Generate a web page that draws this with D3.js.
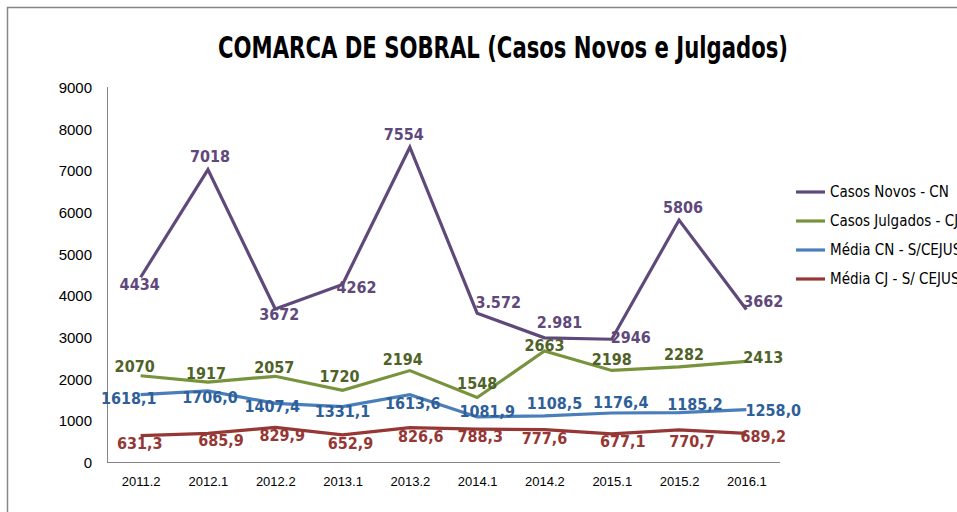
<!DOCTYPE html>
<html>
<head>
<meta charset="utf-8">
<script src="https://cdn.jsdelivr.net/npm/d3@7"></script>
<style>
  body { margin: 0; background: #fff; }
  svg { display: block; font-family: "Liberation Sans Narrow", "DejaVu Sans Condensed", sans-serif; }
  .axis path { stroke: #868686; }
  .axis line { display: none; }
  .axis text { fill: #000; }
</style>
</head>
<body>
<svg class="chart" width="957" height="512"></svg>
<script>
const periods = ["2011.2", "2012.1", "2012.2", "2013.1", "2013.2", "2014.1", "2014.2", "2015.1", "2015.2", "2016.1"];
const casosNovos = [4434, 7018, 3672, 4262, 7554, 3572, 2981, 2946, 5806, 3662];
const casosNovosText = ["4434", "7018", "3672", "4262", "7554", "3.572", "2.981", "2946", "5806", "3662"];
const casosJulgados = [2070, 1917, 2057, 1720, 2194, 1548, 2663, 2198, 2282, 2413];
const mediaCN = [1618.1, 1706.0, 1407.4, 1331.1, 1613.6, 1081.9, 1108.5, 1176.4, 1185.2, 1258.0];
const mediaCJ = [631.3, 685.9, 829.9, 652.9, 826.6, 788.3, 777.6, 677.1, 770.7, 689.2];
const seriesNames = ["Casos Novos - CN", "Casos Julgados - CJ", "Média CN - S/CEJUS", "Média CJ - S/ CEJUS"];
const yTicks = [0, 1000, 2000, 3000, 4000, 5000, 6000, 7000, 8000, 9000];

// label placement, copied by hand from the original chart
const labelShift = [
  [[-1, 13], [2, -8], [4, 11], [14, 9], [-6, -7], [21, -5], [15, -10], [19, 4], [4, -7], [17, -2]],
  [[-6, -4], [-2, -3], [-1, -3], [-3, -8], [-7, -6], [0, -9], [0, 0], [0, -5], [5, -7], [17, 2]],
  [[-12, 9], [2, 12], [-3, 9], [0, 10], [3, 14], [10, 0], [10, -7], [9, -5], [16, -3], [27, 6]],
  [[-1, 13], [13, 13], [7, 14], [8, 14], [11, 14], [3, 13], [0, 14], [11, 13], [13, 17], [17, 9]],
];

function createChart() {
  const svg = d3.select(".chart");
  const left = 107;
  const right = 780;
  const top = 87;
  const bottom = 462;

  const decimal = (v) => d3.format(".1f")(v).replace(".", ",");

  const series = [
    { name: seriesNames[0], values: casosNovos, text: casosNovosText, line: "#5f497a", label: "#5f497a" },
    { name: seriesNames[1], values: casosJulgados, text: casosJulgados.map(String), line: "#77933c", label: "#4f6228" },
    { name: seriesNames[2], values: mediaCN, text: mediaCN.map(decimal), line: "#4a7ebb", label: "#2f5f98" },
    { name: seriesNames[3], values: mediaCJ, text: mediaCJ.map(decimal), line: "#953735", label: "#953735" },
  ];

  // outer chart frame (only top and left edges are in view)
  svg
    .append("rect")
    .attr("x", 7.5)
    .attr("y", 7.5)
    .attr("width", 1200)
    .attr("height", 800)
    .attr("fill", "none")
    .attr("stroke", "#868686")
    .attr("stroke-width", 1.5);

  svg
    .append("text")
    .text("COMARCA DE SOBRAL (Casos Novos e Julgados)")
    .attr("x", 503)
    .attr("y", 58)
    .attr("text-anchor", "middle")
    .attr("font-size", 30)
    .attr("font-weight", "bold")
    .attr("textLength", 570)
    .attr("lengthAdjust", "spacingAndGlyphs");

  const xScale = d3.scalePoint().domain(periods).range([left, right]).padding(0.5);
  const yScale = d3.scaleLinear().domain([0, 9000]).range([bottom, top]);

  svg
    .append("g")
    .attr("class", "axis")
    .attr("transform", "translate(" + left + ",0)")
    .call(d3.axisLeft(yScale).tickValues(yTicks).tickFormat(d3.format("d")).tickSize(0).tickPadding(15).tickSizeOuter(0))
    .call((g) => g.selectAll("text").attr("font-size", 15).attr("dy", "0.36em"))
    .call((g) => g.select(".domain").attr("d", "M0.5," + top + "V" + bottom));

  svg
    .append("g")
    .attr("class", "axis")
    .attr("transform", "translate(0," + bottom + ")")
    .call(d3.axisBottom(xScale).tickSize(0).tickSizeOuter(0).tickPadding(15))
    .call((g) => g.selectAll("text").attr("font-size", 13))
    .call((g) => g.select(".domain").attr("d", "M" + left + ",0.5H" + right));

  const line = d3
    .line()
    .x((d, i) => xScale(periods[i]))
    .y((d) => yScale(d));

  series.forEach((s) => {
    svg
      .append("path")
      .datum(s.values)
      .attr("d", line)
      .attr("fill", "none")
      .attr("stroke", s.line)
      .attr("stroke-width", 3.2)
      .attr("stroke-linejoin", "miter");
  });

  series.forEach((s, k) => {
    svg
      .append("g")
      .selectAll("text")
      .data(s.values)
      .enter()
      .append("text")
      .text((d, i) => s.text[i])
      .attr("x", (d, i) => xScale(periods[i]) + labelShift[k][i][0])
      .attr("y", (d, i) => yScale(d) + labelShift[k][i][1])
      .attr("text-anchor", "middle")
      .attr("font-size", 16)
      .attr("font-weight", "bold")
      .attr("fill", s.label);
  });

  const legend = svg.append("g").attr("class", "legend");
  series.forEach((s, i) => {
    const row = legend.append("g").attr("transform", "translate(796," + (192 + i * 29) + ")");
    row
      .append("line")
      .attr("x1", 0)
      .attr("x2", 29)
      .attr("stroke", s.line)
      .attr("stroke-width", 3.2);
    row
      .append("text")
      .text(s.name)
      .attr("x", 34)
      .attr("dy", "0.35em")
      .attr("font-size", 15);
  });
}

createChart();
</script>
</body>
</html>
